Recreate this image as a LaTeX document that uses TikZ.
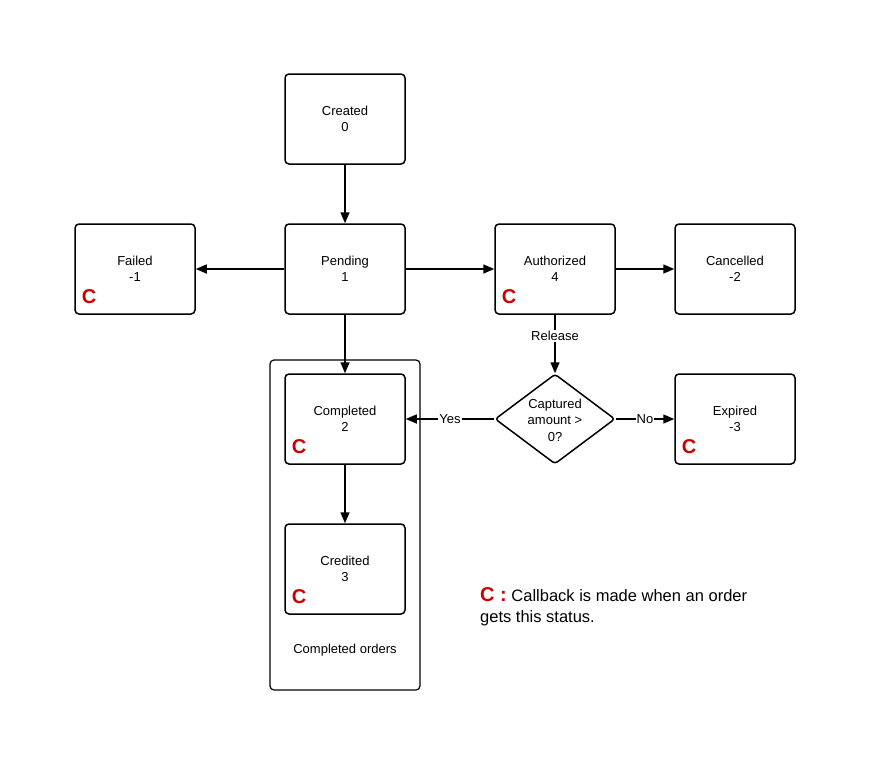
\documentclass[tikz,border=0pt]{standalone}
\usepackage{fontspec}
\setmainfont{Liberation Sans}
\usetikzlibrary{arrows.meta,shapes.geometric}
\definecolor{cred}{RGB}{204,0,0}
\begin{document}
\begin{tikzpicture}[x=1pt,y=-1pt,
  state/.style={draw, line width=1.5pt, rounded corners=4pt, minimum width=120pt, minimum height=90pt, align=center, inner sep=0pt, font=\fontsize{13}{16.5}\selectfont},
  flow/.style={line width=1.5pt, -{Triangle[length=11pt,width=9pt]}},
  cmark/.style={text=cred, font=\fontsize{20}{20}\bfseries\selectfont, inner sep=0pt},
  lbl/.style={fill=white, inner sep=1pt, font=\fontsize{13}{15}\selectfont}
]
\useasboundingbox (0,0) rectangle (872,780);
\node[draw, line width=1.2pt, rounded corners=4pt, minimum width=150pt, minimum height=330pt] (grp) at (345,525) {};
\node[state] (created) at (345,119) {Created\\0};
\node[state] (pending) at (345,269) {Pending\\1};
\node[state] (failed) at (135,269) {Failed\\-1};
\node[state] (auth) at (555,269) {Authorized\\4};
\node[state] (cancel) at (735,269) {Cancelled\\-2};
\node[state] (compl) at (345,419) {Completed\\2};
\node[state] (cred) at (345,569) {Credited\\3};
\node[state] (exp) at (735,419) {Expired\\-3};
\node[draw, shape=diamond, line width=1.5pt, minimum width=120pt, minimum height=90pt, inner sep=0pt, rounded corners=3pt] (dec) at (555,419) {};
\node[align=center, inner sep=0pt, font=\fontsize{13}{16.5}\selectfont] (dectxt) at (555,420) {Captured\\amount >\\0?};
\node[cmark] (c1) at (89,297) {C};
\node[cmark] (c2) at (509,297) {C};
\node[cmark] (c3) at (299,447) {C};
\node[cmark] (c4) at (299,597) {C};
\node[cmark] (c5) at (689,447) {C};
\node[font=\fontsize{13}{15}\selectfont] (grplbl) at (345,650) {Completed orders};
\draw[flow] (created) -- (pending);
\draw[flow] (pending) -- (failed);
\draw[flow] (pending) -- (auth);
\draw[flow] (auth) -- (cancel);
\draw[flow] (pending) -- (compl);
\draw[flow] (compl) -- (cred);
\draw[flow] (auth) -- (dec.north) node[lbl, pos=0.36] (rel) {Release};
\draw[flow] (dec.west) -- (compl.east) node[lbl, pos=0.5] (yes) {Yes};
\draw[flow] (dec.east) -- (exp.west) node[lbl, pos=0.5] (no) {No};
\node[anchor=base west, inner sep=0pt, font=\fontsize{16.5}{19}\selectfont] (leg1) at (480,601) {{\color{cred}\bfseries\fontsize{20}{20}\selectfont C :} Callback is made when an order};
\node[anchor=base west, inner sep=0pt, font=\fontsize{16.5}{19}\selectfont] (leg2) at (480,622) {gets this status.};
\end{tikzpicture}
\end{document}
